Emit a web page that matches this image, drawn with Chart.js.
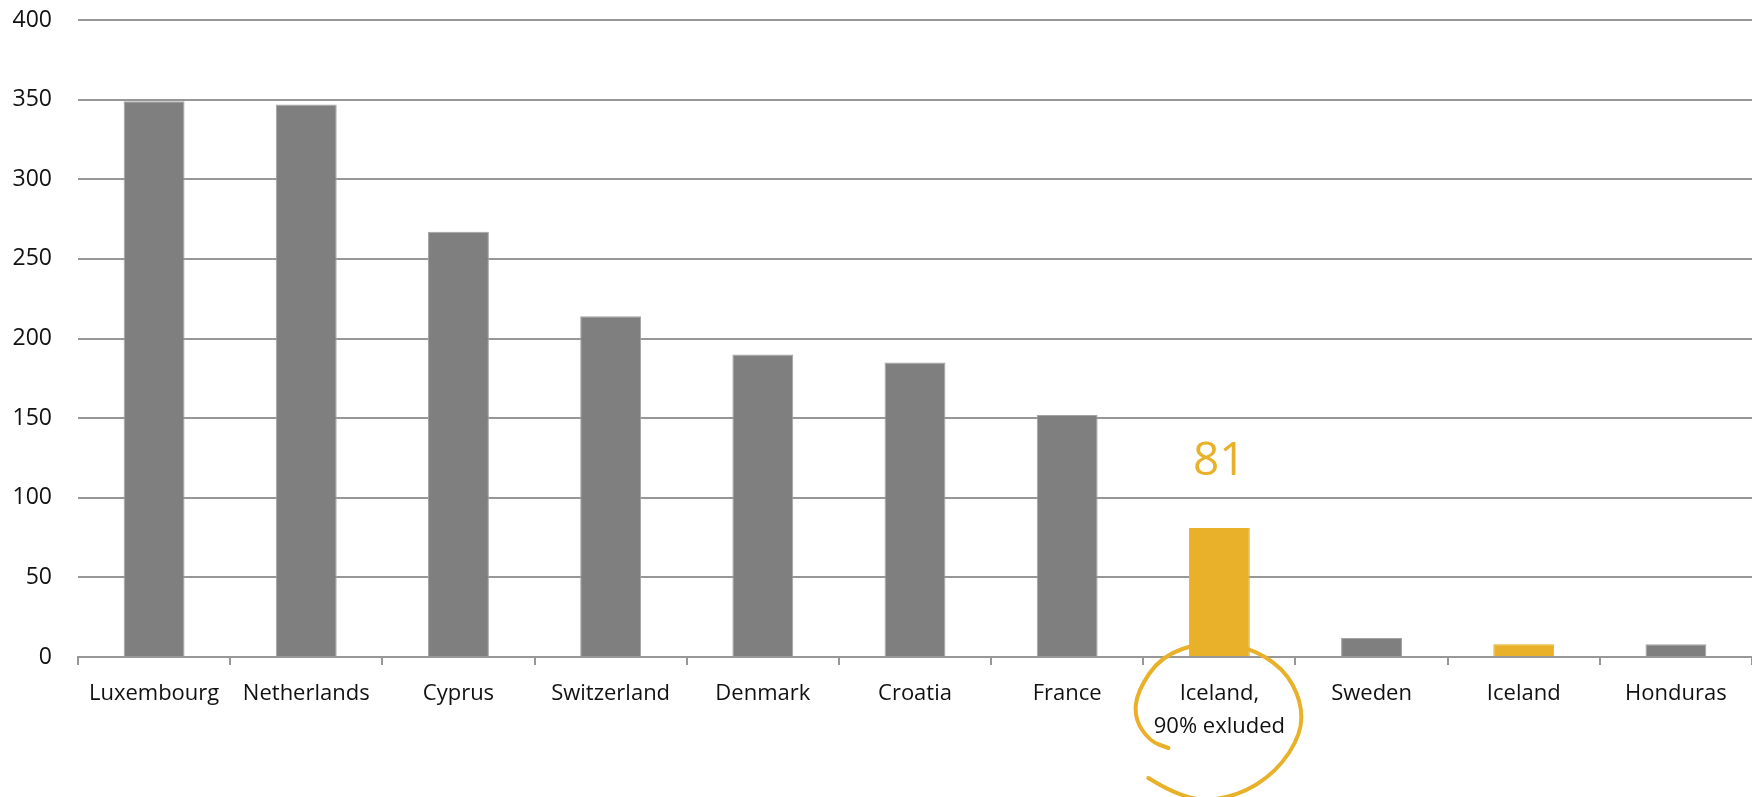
<!DOCTYPE html>
<html>
<head>
<meta charset="utf-8">
<script src="https://cdn.jsdelivr.net/npm/chart.js@4.4.1/dist/chart.umd.min.js"></script>
<style>
    html, body { margin: 0; padding: 0; background: #ffffff; }
    #wrap { width: 1752px; height: 797px; }
</style>
</head>
<body>
<div id="wrap"><canvas id="bar-chart"></canvas></div>
<script>
// Chart data
const countries = ['Luxembourg', 'Netherlands', 'Cyprus', 'Switzerland', 'Denmark', 'Croatia', 'France',
    ['Iceland,', '90% exluded'], 'Sweden', 'Iceland', 'Honduras'];
const values = [349, 347, 267, 214, 190, 185, 152, 81, 12, 8, 8];
const highlighted = [7, 9];      // bars drawn in gold
const labelledBar = 7;           // bar with the big value label and the circle
const yMin = 0;
const yMax = 400;
const yStep = 50;

(function() {
    'use strict';

    const GREY = '#7f7f7f';
    const GOLD = '#e9b12a';
    const GRID = '#979797';
    const FONT = '"Open Sans", sans-serif';

    const barColors = values.map((v, i) => highlighted.includes(i) ? GOLD : GREY);
    const barBorders = values.map((v, i) => highlighted.includes(i) ? GOLD : '#a3a3a3');

    // Big value label above the highlighted bar
    const valueLabel = {
        id: 'valueLabel',
        afterDatasetsDraw(chart) {
            const bar = chart.getDatasetMeta(0).data[labelledBar];
            const ctx = chart.ctx;
            ctx.save();
            ctx.fillStyle = GOLD;
            ctx.font = '46px ' + FONT;
            ctx.textAlign = 'center';
            ctx.textBaseline = 'middle';
            ctx.fillText(String(values[labelledBar]), bar.x, bar.y - 66);
            ctx.restore();
        }
    };

    // Hand-drawn circle around the highlighted category label
    const labelCircle = {
        id: 'labelCircle',
        afterDraw(chart) {
            const xs = chart.scales.x;
            const cx = xs.getPixelForValue(labelledBar) + 4;
            const cy = xs.top + 61;
            const pts = [[-75, 60], [-37, 84], [13, 79], [53, 54], [78, 16], [78, -17], [60, -50],
                [23, -72], [-20, -76], [-62, -62], [-86, -27], [-89, 0], [-74, 23], [-55, 30]];
            const ctx = chart.ctx;
            ctx.save();
            ctx.strokeStyle = GOLD;
            ctx.lineWidth = 4;
            ctx.lineCap = 'round';
            ctx.lineJoin = 'round';
            ctx.beginPath();
            ctx.moveTo(cx + pts[0][0], cy + pts[0][1]);
            for (let i = 1; i < pts.length - 1; i++) {
                const mx = (pts[i][0] + pts[i + 1][0]) / 2;
                const my = (pts[i][1] + pts[i + 1][1]) / 2;
                ctx.quadraticCurveTo(cx + pts[i][0], cy + pts[i][1], cx + mx, cy + my);
            }
            const last = pts[pts.length - 1];
            ctx.lineTo(cx + last[0], cy + last[1]);
            ctx.stroke();
            ctx.restore();
        }
    };

    const ctx = document.getElementById('bar-chart');

    new Chart(ctx, {
        type: 'bar',
        data: {
            labels: countries,
            datasets: [{
                data: values,
                backgroundColor: barColors,
                borderColor: barBorders,
                borderWidth: 1,
                barPercentage: 0.4,
                categoryPercentage: 1.0
            }]
        },
        options: {
            responsive: true,
            maintainAspectRatio: false,
            animation: false,
            layout: {
                padding: { top: 20, right: 0, left: 0, bottom: 0 }
            },
            plugins: {
                legend: { display: false },
                tooltip: { enabled: false }
            },
            scales: {
                y: {
                    min: yMin,
                    max: yMax,
                    afterFit: function(scale) {
                        scale.width = 78;
                        scale.paddingTop = 0;
                        scale.paddingBottom = 0;
                    },
                    border: { display: false },
                    grid: {
                        color: GRID,
                        lineWidth: 2,
                        drawTicks: false
                    },
                    ticks: {
                        stepSize: yStep,
                        padding: 26,
                        color: '#111111',
                        font: { family: FONT, size: 23 }
                    }
                },
                x: {
                    offset: true,
                    afterFit: function(scale) { scale.height = 140; },
                    border: { display: true, color: GRID, width: 2 },
                    grid: {
                        offset: true,
                        drawOnChartArea: false,
                        color: GRID,
                        lineWidth: 2,
                        tickLength: 8
                    },
                    ticks: {
                        autoSkip: false,
                        maxRotation: 0,
                        padding: 12,
                        color: '#111111',
                        font: { family: FONT, size: 22, lineHeight: 1.5 }
                    }
                }
            }
        },
        plugins: [valueLabel, labelCircle]
    });
})();
</script>
</body>
</html>
